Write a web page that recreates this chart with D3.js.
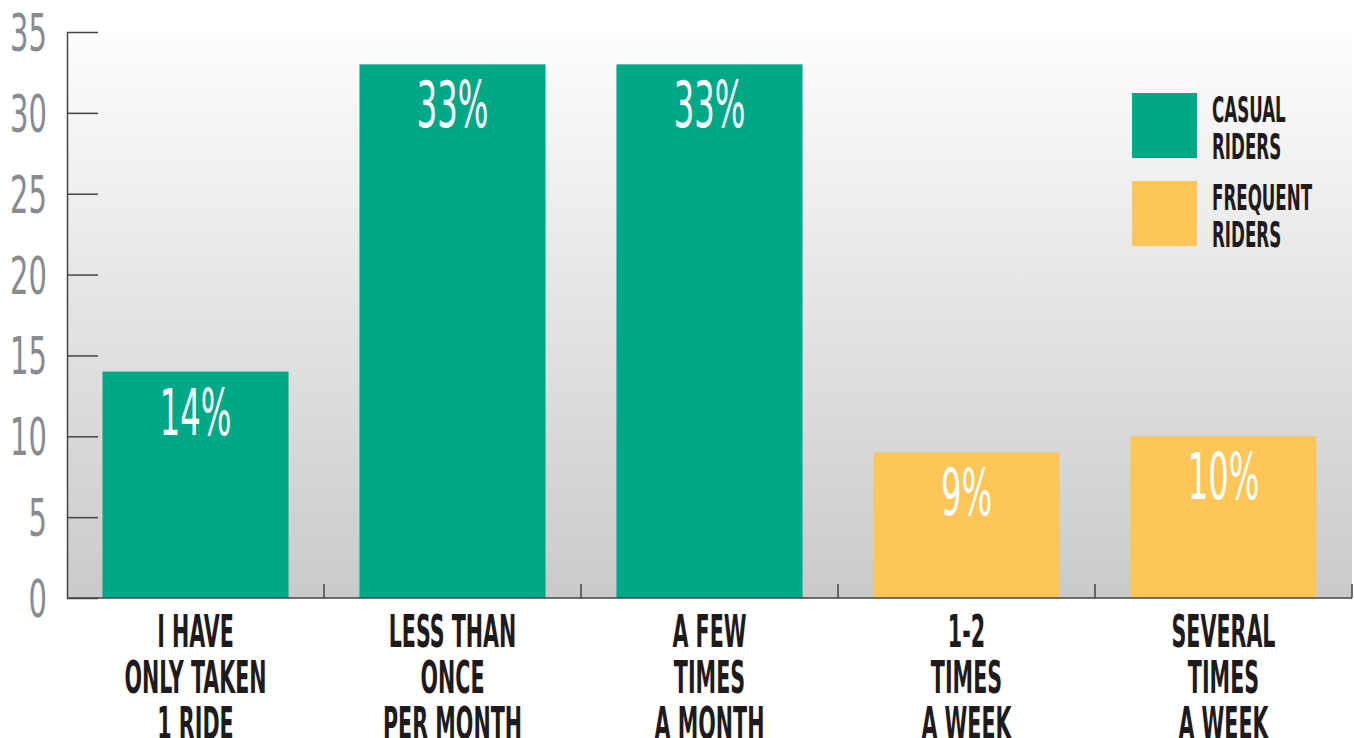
<!DOCTYPE html>
<html>
<head>
<meta charset="utf-8">
<script src="https://cdn.jsdelivr.net/npm/d3@7"></script>
<style>
  body { margin: 0; background: #fff; }
  svg text { font-family: "Liberation Sans Narrow", "DejaVu Sans Condensed", "Liberation Sans", sans-serif; }
</style>
</head>
<body>
<svg id="chart" width="1354" height="738"></svg>
<script>
// chart data
var categories = [
  ['I HAVE', 'ONLY TAKEN', '1 RIDE'],
  ['LESS THAN', 'ONCE', 'PER MONTH'],
  ['A FEW', 'TIMES', 'A MONTH'],
  ['1-2', 'TIMES', 'A WEEK'],
  ['SEVERAL', 'TIMES', 'A WEEK']
];
var values = [14, 33, 33, 9, 10];
var groups = ['casual', 'casual', 'casual', 'frequent', 'frequent'];
var yTicks = [0, 5, 10, 15, 20, 25, 30, 35];
var legendLabels = [['CASUAL', 'RIDERS'], ['FREQUENT', 'RIDERS']];

var colors = { casual: '#00a887', frequent: '#fec558' };

var plotLeft = 67, plotRight = 1352, plotTop = 32, plotBottom = 598;
var svg = d3.select('#chart');

var x = d3.scaleBand()
  .domain(d3.range(values.length))
  .range([plotLeft, plotRight])
  .paddingInner(0.276)
  .paddingOuter(0.138);

var y = d3.scaleLinear().domain([0, 35]).range([plotBottom, plotTop]);

// background gradient in the plot area
var grad = svg.append('defs').append('linearGradient')
  .attr('id', 'bg').attr('x1', 0).attr('y1', 0).attr('x2', 0).attr('y2', 1);
grad.append('stop').attr('offset', '0%').attr('stop-color', '#fdfdfd');
grad.append('stop').attr('offset', '100%').attr('stop-color', '#c9cacc');

svg.append('rect')
  .attr('x', plotLeft).attr('y', plotTop)
  .attr('width', plotRight - plotLeft).attr('height', plotBottom - plotTop)
  .attr('fill', 'url(#bg)');

// y axis
var yAxis = svg.append('g').attr('transform', 'translate(' + plotLeft + ',0)')
  .call(d3.axisRight(y).tickValues(yTicks).tickSize(31).tickSizeOuter(0).tickFormat(''));
yAxis.select('.domain').attr('stroke', '#444').attr('stroke-width', 1.5);
yAxis.selectAll('.tick line').attr('stroke', '#444').attr('stroke-width', 1.5);

svg.append('g').selectAll('text')
  .data(yTicks)
  .join('text')
  .attr('transform', function (d) { return 'translate(47,' + (y(d) + 19) + ') scale(0.62,1)'; })
  .attr('text-anchor', 'end')
  .attr('font-size', 52)
  .attr('fill', '#898b8e')
  .text(function (d) { return d; });

// bars
svg.append('g').selectAll('rect')
  .data(values)
  .join('rect')
  .attr('x', function (d, i) { return x(i); })
  .attr('y', function (d) { return y(d); })
  .attr('width', x.bandwidth())
  .attr('height', function (d) { return y(0) - y(d); })
  .attr('fill', function (d, i) { return colors[groups[i]]; });

// value labels
svg.append('g').selectAll('text')
  .data(values)
  .join('text')
  .attr('transform', function (d, i) {
    return 'translate(' + (x(i) + x.bandwidth() / 2) + ',' + (y(d) + 63) + ') scale(0.56,1)';
  })
  .attr('text-anchor', 'middle')
  .attr('font-size', 64)
  .attr('fill', '#fff')
  .text(function (d) { return d + '%'; });

// x axis with ticks between the categories
var boundaries = d3.range(values.length).map(function (i) { return x(i) + x.bandwidth() + x.step() * x.paddingInner() / 2; });
var xAxis = svg.append('g');
xAxis.append('line')
  .attr('x1', plotLeft).attr('x2', plotRight).attr('y1', plotBottom).attr('y2', plotBottom)
  .attr('stroke', '#444').attr('stroke-width', 1.5);
xAxis.selectAll('.bt')
  .data(boundaries)
  .join('line')
  .attr('class', 'bt')
  .attr('x1', function (d) { return d; }).attr('x2', function (d) { return d; })
  .attr('y1', plotBottom).attr('y2', plotBottom - 14)
  .attr('stroke', '#444').attr('stroke-width', 1.5);

// category labels
var cat = svg.append('g').selectAll('g')
  .data(categories)
  .join('g');
cat.each(function (lines, i) {
  var cx = x(i) + x.bandwidth() / 2;
  d3.select(this).selectAll('text')
    .data(lines)
    .join('text')
    .attr('transform', function (d, j) { return 'translate(' + cx + ',' + (647 + j * 46) + ') scale(0.51,1)'; })
    .attr('text-anchor', 'middle')
    .attr('font-size', 45)
    .attr('font-weight', 'bold')
    .attr('fill', '#1f1b1c')
    .text(function (d) { return d; });
});

// legend
var legend = svg.append('g').selectAll('g')
  .data(legendLabels)
  .join('g')
  .attr('transform', function (d, i) { return 'translate(1132,' + (93 + i * 88) + ')'; });
legend.append('rect')
  .attr('width', 65).attr('height', 65)
  .attr('fill', function (d, i) { return i === 0 ? colors.casual : colors.frequent; });
legend.each(function (lines) {
  d3.select(this).selectAll('text')
    .data(lines)
    .join('text')
    .attr('transform', function (d, j) { return 'translate(80,' + (29 + j * 37) + ') scale(0.53,1)'; })
    .attr('font-size', 35)
    .attr('font-weight', 'bold')
    .attr('fill', '#1f1b1c')
    .text(function (d) { return d; });
});
</script>
</body>
</html>
